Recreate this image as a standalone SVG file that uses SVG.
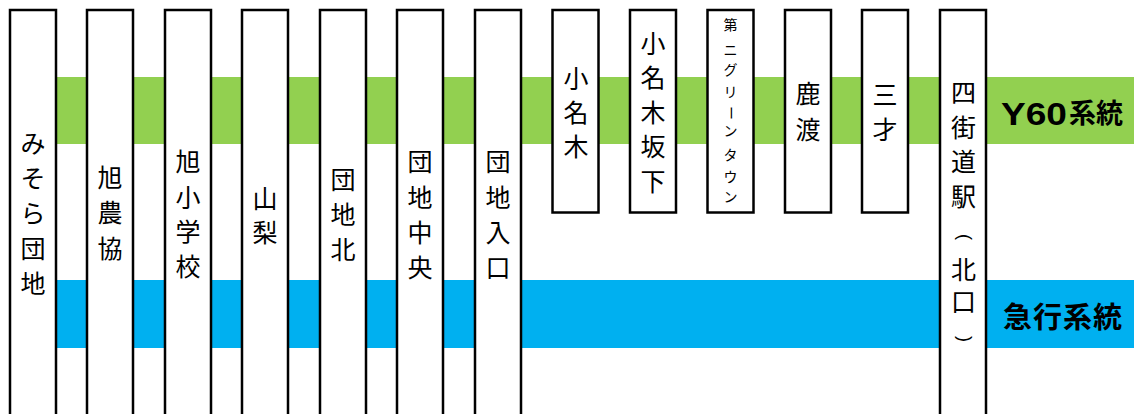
<svg xmlns="http://www.w3.org/2000/svg" width="1134" height="414" viewBox="0 0 1134 414">
<style>
.box{fill:#fff;stroke:#000;stroke-width:2.5}
.t{font-family:"Noto Sans CJK JP","Noto Sans CJK SC",sans-serif;font-size:25px;fill:#000;text-anchor:middle}
.s{font-family:"Noto Sans CJK JP","Noto Sans CJK SC",sans-serif;font-size:14px;fill:#000;text-anchor:middle}
.p{font-family:"Liberation Sans",sans-serif;font-size:18px;fill:#000;text-anchor:middle}
.lbl{font-family:"Noto Sans CJK JP","Noto Sans CJK SC",sans-serif;font-weight:bold;fill:#000}
.lat{font-family:"Liberation Sans",sans-serif;font-weight:bold;fill:#000;font-size:31px}
</style>
<g id="routes">
<rect x="57" y="77" width="1077" height="67" fill="#92d050"/>
<rect x="57" y="280" width="1077" height="68" fill="#00b0f0"/>
<text class="lat" x="1001" y="125" textLength="66" lengthAdjust="spacingAndGlyphs">Y60</text>
<text class="lbl" x="1069" y="123" font-size="27">系統</text>
<text class="lbl" x="1063" y="328" font-size="29" text-anchor="middle" letter-spacing="1">急行系統</text>
</g>
<g id="n1"><rect class="box" x="10" y="10" width="46" height="420"/><text class="t" x="33 33 33 33 33" y="152.5 187.5 222.5 257.5 293">みそら団地</text></g>
<g id="n2"><rect class="box" x="87" y="10" width="46" height="420"/><text class="t" x="110 110 110" y="186.5 222 257.5">旭農協</text></g>
<g id="n3"><rect class="box" x="165" y="10" width="46" height="420"/><text class="t" x="188 188 188 188" y="171 206.5 241 276">旭小学校</text></g>
<g id="n4"><rect class="box" x="242" y="10" width="46" height="420"/><text class="t" x="265 265" y="207.5 241.5">山梨</text></g>
<g id="n5"><rect class="box" x="320" y="10" width="46" height="420"/><text class="t" x="343 343 343" y="188.5 223.5 258.5">団地北</text></g>
<g id="n6"><rect class="box" x="397" y="10" width="46" height="420"/><text class="t" x="420 420 420 420" y="171 206.5 241.5 277">団地中央</text></g>
<g id="n7"><rect class="box" x="475" y="10" width="46" height="420"/><text class="t" x="498 498 498 498" y="171 206.5 241.5 277">団地入口</text></g>
<g id="n8"><rect class="box" x="552.5" y="10" width="46" height="202.5"/><text class="t" x="576 576 576" y="87.5 121.5 155.5">小名木</text></g>
<g id="n9"><rect class="box" x="630" y="10" width="46" height="202.5"/><text class="t" x="653 653 653 653 653" y="52.5 87 121.5 155.5 190.5">小名木坂下</text></g>
<g id="n10"><rect class="box" x="707.5" y="10" width="46" height="202.5"/>
<text class="s" x="730.5 730.5 730.5 730.5" y="30 55 75 97">第ニグリ</text>
<text class="s" x="730.5" y="118" transform="rotate(90 730.5 113)">ー</text>
<text class="s" x="730.5 730.5 730.5 730.5" y="136 160 182 202">ンタウン</text></g>
<g id="n11"><rect class="box" x="785" y="10" width="46" height="202.5"/><text class="t" x="808 808" y="102.5 138.5">鹿渡</text></g>
<g id="n12"><rect class="box" x="862" y="10" width="46" height="202.5"/><text class="t" x="885 885" y="103.5 138.5">三才</text></g>
<g id="n13"><rect class="box" x="940" y="10" width="46" height="420"/><text class="t" x="963.5 963.5 963.5 963.5" y="102 136.5 170.5 205.5">四街道駅</text><text class="p" x="963.5" y="241.7" transform="rotate(90 963.5 237)">(</text><text class="t" x="963.5 963.5" y="278.5 310.5">北口</text><text class="p" x="963.5" y="343.7" transform="rotate(90 963.5 339)">)</text></g>
</svg>
